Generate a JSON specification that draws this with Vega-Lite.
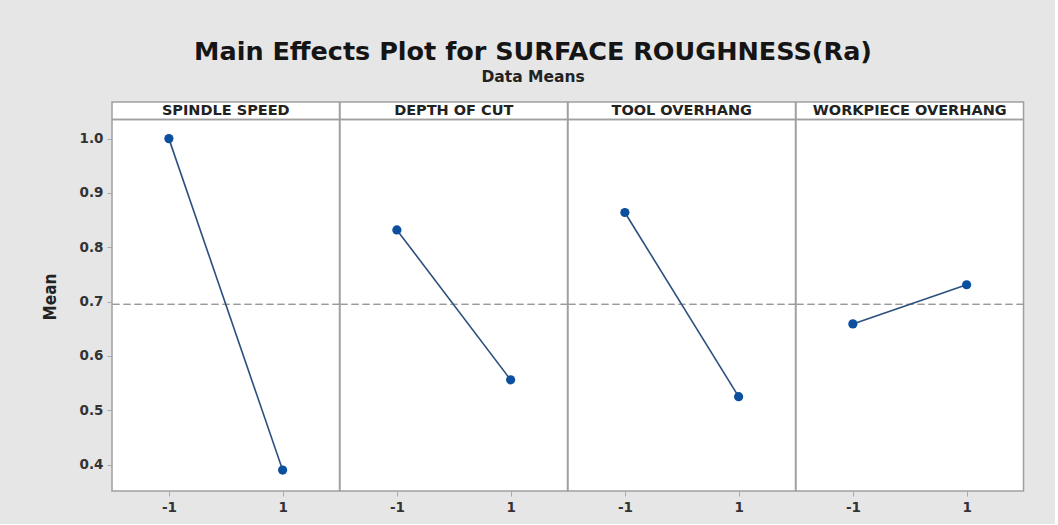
{
  "$schema": "https://vega.github.io/schema/vega-lite/v6.json",
  "background": "#e6e6e6",
  "padding": {"left": 41, "top": 40, "right": 30, "bottom": 10},
  "bounds": "flush",
  "title": {
    "text": "Main Effects Plot for SURFACE ROUGHNESS(Ra)",
    "subtitle": "Data Means",
    "font": "DejaVu Sans",
    "fontSize": 25.5,
    "fontWeight": "bold",
    "color": "#151515",
    "subtitleFont": "DejaVu Sans",
    "subtitleFontSize": 15.5,
    "subtitleFontWeight": "bold",
    "subtitleColor": "#222222",
    "subtitlePadding": 4,
    "anchor": "middle",
    "offset": 16
  },
  "data": {
    "values": [
      {"factor": "SPINDLE SPEED", "level": -1, "mean": 1.0},
      {"factor": "SPINDLE SPEED", "level": 1, "mean": 0.39},
      {"factor": "DEPTH OF CUT", "level": -1, "mean": 0.832},
      {"factor": "DEPTH OF CUT", "level": 1, "mean": 0.556},
      {"factor": "TOOL OVERHANG", "level": -1, "mean": 0.864},
      {"factor": "TOOL OVERHANG", "level": 1, "mean": 0.525},
      {"factor": "WORKPIECE OVERHANG", "level": -1, "mean": 0.659},
      {"factor": "WORKPIECE OVERHANG", "level": 1, "mean": 0.731}
    ]
  },
  "facet": {
    "column": {
      "field": "factor",
      "type": "nominal",
      "sort": ["SPINDLE SPEED", "DEPTH OF CUT", "TOOL OVERHANG", "WORKPIECE OVERHANG"],
      "header": {"labels": false, "title": null}
    }
  },
  "spacing": 0,
  "spec": {
    "width": 227.5,
    "height": 389,
    "layer": [
      {
        "mark": {"type": "rule", "color": "#9a9a9a", "strokeDash": [7, 4], "strokeWidth": 1.3},
        "encoding": {"y": {"datum": 0.695, "type": "quantitative"}}
      },
      {
        "mark": {"type": "rule", "color": "#a0a0a0", "strokeWidth": 1.5},
        "encoding": {"y": {"datum": 1.035, "type": "quantitative"}}
      },
      {
        "transform": [{"filter": "datum.level == -1"}],
        "mark": {"type": "text", "font": "DejaVu Sans", "fontSize": 14.5, "fontWeight": "bold", "color": "#222222", "baseline": "middle", "align": "center"},
        "encoding": {
          "x": {"datum": 0, "type": "quantitative"},
          "y": {"datum": 1.0511, "type": "quantitative"},
          "text": {"field": "factor"}
        }
      },
      {
        "mark": {"type": "line", "color": "#2b4f7e", "strokeWidth": 1.6},
        "encoding": {
          "x": {"field": "level", "type": "quantitative",
                "scale": {"domain": [-2, 2], "nice": false, "zero": false},
                "axis": {"values": [-1, 1], "title": null, "labelExpr": "'' + datum.value"}},
          "y": {"field": "mean", "type": "quantitative",
                "scale": {"domain": [0.3514, 1.0674], "nice": false, "zero": false},
                "axis": {"values": [0.4, 0.5, 0.6, 0.7, 0.8, 0.9, 1.0], "format": ".1f", "title": "Mean"}}
        }
      },
      {
        "mark": {"type": "point", "filled": true, "shape": "circle", "size": 85, "color": "#0b4f9e", "opacity": 1},
        "encoding": {
          "x": {"field": "level", "type": "quantitative"},
          "y": {"field": "mean", "type": "quantitative"}
        }
      }
    ]
  },
  "config": {
    "view": {"stroke": "#a0a0a0", "strokeWidth": 1.5, "fill": "white"},
    "axis": {
      "grid": false,
      "domain": false,
      "tickColor": "#aaaaaa",
      "tickSize": 5,
      "labelColor": "#333333",
      "labelFont": "DejaVu Sans",
      "labelFontWeight": "bold",
      "labelFontSize": 13.5,
      "labelPadding": 4
    },
    "axisY": {
      "titleFont": "Liberation Sans Narrow, DejaVu Sans Condensed, sans-serif",
      "titleFontSize": 17,
      "titleFontWeight": "bold",
      "titleColor": "#222222",
      "titlePadding": 20
    }
  }
}
